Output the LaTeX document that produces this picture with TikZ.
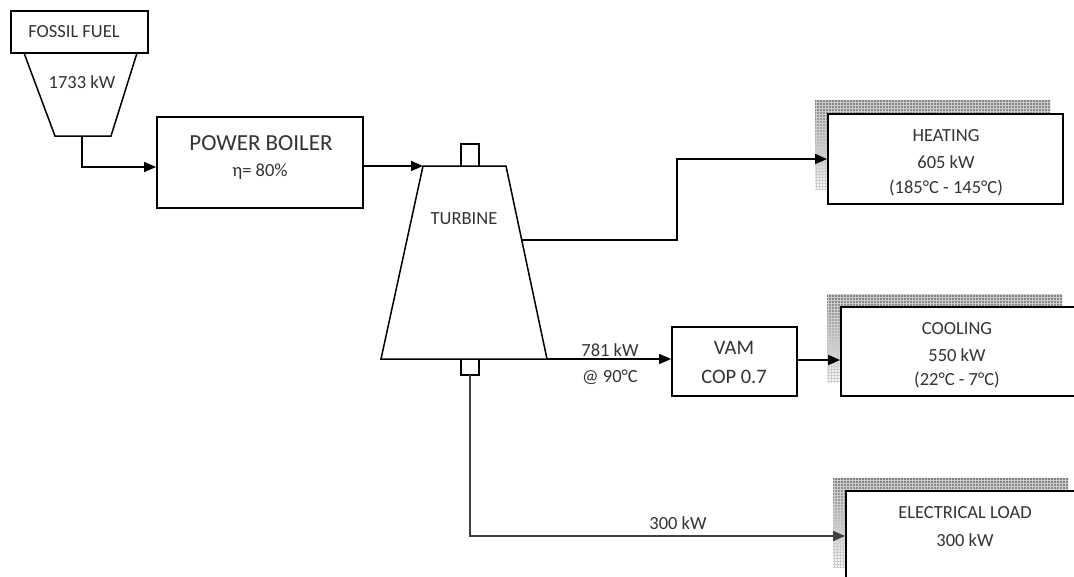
\documentclass[tikz,border=0pt]{standalone}
\usepackage{fontspec}
\setmainfont{Carlito}
\usetikzlibrary{arrows.meta,patterns,calc}
\definecolor{txt}{HTML}{333333}
\definecolor{shade}{RGB}{172,172,172}
\definecolor{shadeline}{RGB}{205,205,205}
\tikzset{
  box/.style={draw=black, line width=1.8pt, fill=white},
  shp/.style={draw=black, line width=1.5pt, line join=miter},
  flow/.style={line width=1.6pt, draw=black, -{Triangle[length=12pt,width=10pt]}},
  gflow/.style={line width=1.6pt, draw=black!75, -{Triangle[length=12pt,width=10pt]}},
  lbl/.style={text=txt, font=\fontsize{18.5}{20}\selectfont, inner sep=0pt, anchor=center},
  big/.style={text=txt, font=\fontsize{23}{26}\selectfont, inner sep=0pt},
  mid/.style={text=txt, font=\fontsize{20.5}{23}\selectfont, inner sep=0pt},
}
\newcommand{\shadowbox}[4]{%
  \fill[shade] (#1,#2) rectangle (#3,#4);
  \path[pattern=grid, pattern color=shadeline] (#1,#2) rectangle (#3,#4);}
\begin{document}
\begin{tikzpicture}[x=1pt,y=-1pt]
\useasboundingbox (0,0) rectangle (1074,576);
% Fossil fuel
\node[box, minimum width=137pt, minimum height=42pt, inner sep=0pt] (fuel) at (79.5,32) {};
\node[lbl] (fueltxt) at (74,32) {FOSSIL FUEL};
\draw[shp] (24,53) -- (55,136) -- (111,136) -- (137,53);
\node[lbl] (fuelkw) at (82,82) {1733 kW};
\coordinate (fuelout) at (82,136);
% Boiler
\node[box, minimum width=206pt, minimum height=91pt, inner sep=0pt] (boiler) at (260,162.5) {};
\node[big] (boilertxt) at (261,143) {POWER BOILER};
\node[lbl] (eta) at (260,172) {η= 80\%};
\draw[flow] (fuelout) -- (82,167) -- (boiler.west |- 0,167);
% Turbine
\coordinate (t1) at (423,166);
\coordinate (t2) at (506,166);
\coordinate (t3) at (547,359);
\coordinate (t4) at (381,359);
\draw[shp, fill=white] (t1) -- (t2) -- (t3) -- (t4) -- cycle;
\draw[shp] (461,166) -- (461,144) -- (479,144) -- (479,166);
\draw[shp] (461,359) -- (461,375) -- (479,375) -- (479,359);
\coordinate (tbot) at (470,375);
\node[lbl] (turb) at (464,219) {TURBINE};
\draw[flow] (boiler.east |- t1) -- (t1);
% Heating
\shadowbox{815}{100}{1050}{189}
\node[box, minimum width=235pt, minimum height=90pt, inner sep=0pt] (heat) at (945.5,159) {};
\node[lbl] (h1) at (946,136) {HEATING};
\node[lbl] (h2) at (946,162) {605 kW};
\node[lbl] (h3) at (946,188) {(185°C - 145°C)};
\coordinate (hout) at (522,240);
\draw[flow] (hout) -- (677,240) -- (677,159) -- (heat.west);
% VAM
\node[box, minimum width=125pt, minimum height=69pt, inner sep=0pt] (vam) at (734.5,361.5) {};
\node[mid] (v1) at (734,348) {VAM};
\node[mid] (v2) at (734,377) {COP 0.7};
\draw[flow] (t3) -- (vam.west |- t3);
\node[lbl] (q1) at (610,350) {781 kW};
\node[lbl] (q2) at (610,377) {@ 90°C};
% Cooling
\shadowbox{827}{294}{1062}{382}
\node[box, minimum width=240pt, minimum height=89pt, inner sep=0pt] (cool) at (961,351.5) {};
\node[lbl] (c1) at (957,329) {COOLING};
\node[lbl] (c2) at (957,355) {550 kW};
\node[lbl] (c3) at (957,380) {(22°C - 7°C)};
\draw[flow] (vam.east |- 0,360) -- (cool.west |- 0,360);
% Electrical
\shadowbox{833}{478}{1068}{567}
\node[box, minimum width=240pt, minimum height=92pt, inner sep=0pt] (elec) at (966,537) {};
\node[lbl] (e1) at (965,513) {ELECTRICAL LOAD};
\node[lbl] (e2) at (965,540) {300 kW};
\draw[gflow] (tbot) -- (470,536) -- (elec.west |- 0,536);
\node[lbl] (e3) at (678,523) {300 kW};
\end{tikzpicture}
\end{document}
